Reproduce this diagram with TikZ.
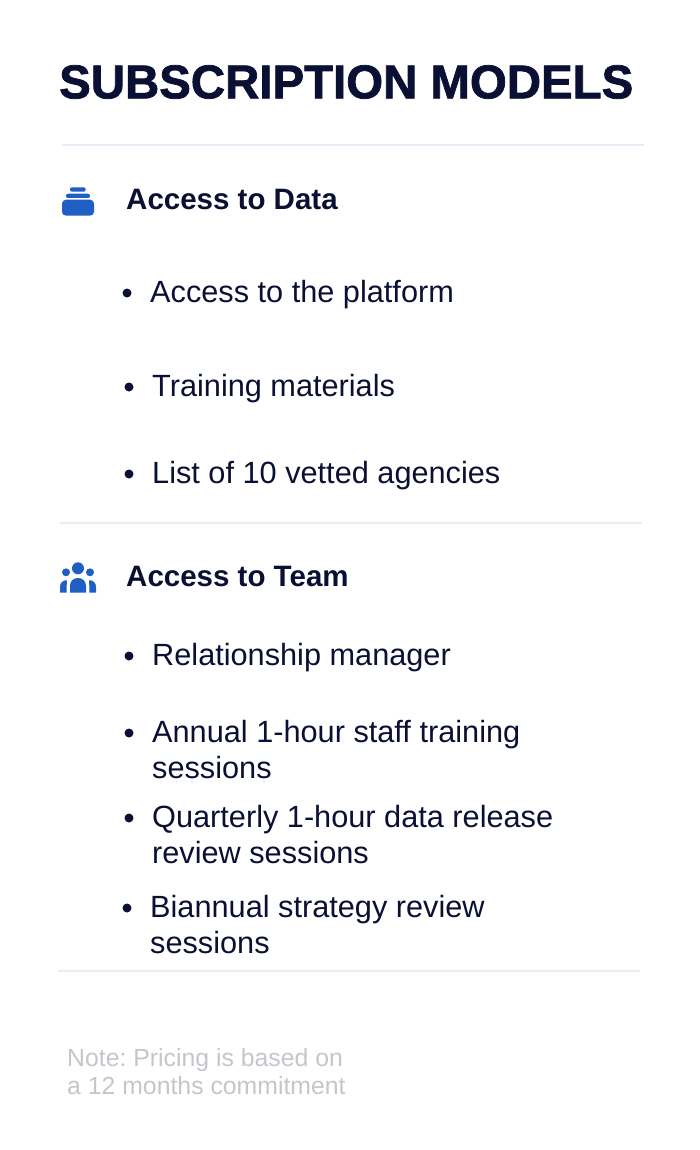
\documentclass[tikz,border=0pt]{standalone}
\usepackage{fontspec}
\setmainfont{Liberation Sans}
\newfontfamily\titlefont[FakeBold=1.6]{Liberation Sans Bold}
\usetikzlibrary{positioning}
\definecolor{inkblue}{HTML}{0A1033}
\definecolor{iconblue}{HTML}{1F5FC4}
\definecolor{rulegrey}{HTML}{E8ECF6}
\definecolor{notegrey}{HTML}{C4C6CC}

\begin{document}
\begin{tikzpicture}
    [
    x=1pt,y=-1pt,
    title/.style={anchor=west,inner sep=0pt,text=inkblue,font=\fontsize{47.4}{48}\selectfont\titlefont},
    heading/.style={anchor=west,inner sep=0pt,text=inkblue,font=\fontsize{29.5}{29.5}\selectfont\bfseries},
    entry/.style={anchor=west,inner sep=0pt,text=inkblue,align=left,font=\fontsize{30.7}{36}\selectfont},
    note/.style={anchor=west,inner sep=0pt,text=notegrey,align=left,font=\fontsize{24.8}{28}\selectfont\frenchspacing},
    dot/.style={circle,fill=inkblue,inner sep=0pt,minimum size=9pt},
    divider/.style={rulegrey,line width=1.5pt},
    icon/.style={iconblue},
    ]
    \useasboundingbox (0,0) rectangle (700,1150);

    \node (title) at (59,82) [title] {SUBSCRIPTION MODELS};

    \coordinate (r1a) at (62,145);
    \coordinate (r1b) at (644,145);
    \draw [divider] (r1a) to (r1b);

    \node (head1) at (126,199) [heading] {Access to Data};
    \fill [icon, rounded corners=2pt] (70,187.3) rectangle (85.7,191.7);
    \fill [icon, rounded corners=2pt] (66,193.7) rectangle (90,198);
    \fill [icon, rounded corners=4pt] (62,199.7) rectangle (94,215.7);

    \node (d1) at (127,293) [dot] {};
    \node (t1) at (150,295) [entry] {Access to the platform};
    \node (d2) at (129,387) [dot] {};
    \node (t2) at (152,389) [entry] {Training materials};
    \node (d3) at (129,474) [dot] {};
    \node (t3) at (152,476) [entry] {List of 10 vetted agencies};

    \coordinate (r2a) at (60,523);
    \coordinate (r2b) at (642,523);
    \draw [divider] (r2a) to (r2b);

    \node (head2) at (126,576) [heading] {Access to Team};
    \fill [icon] (78,568.3) circle [radius=6];
    \fill [icon] (66,572.3) circle [radius=4];
    \fill [icon] (90,572.3) circle [radius=4];
    \fill [icon] (70,592.7) -- (70,586) .. controls (70,581) and (73.5,578) .. (78,578)
        .. controls (82.5,578) and (86,581) .. (86,586) -- (86,592.7) -- cycle;
    \fill [icon] (60,592.7) -- (60,587) .. controls (60,583) and (62.5,580.5) .. (66.7,580)
        .. controls (67,582) and (66.7,584) .. (66.7,586) -- (66.7,592.7) -- cycle;
    \fill [icon] (96,592.7) -- (96,587) .. controls (96,583) and (93.5,580.5) .. (89.3,580)
        .. controls (89,582) and (89.3,584) .. (89.3,586) -- (89.3,592.7) -- cycle;

    \node (d4) at (129,656) [dot] {};
    \node (t4) at (152,658) [entry] {Relationship manager};
    \node (d5) at (129,733) [dot] {};
    \node (t5) at (152,750) [entry] {Annual 1-hour staff training\\sessions};
    \node (d6) at (129,818) [dot] {};
    \node (t6) at (152,835) [entry] {Quarterly 1-hour data release\\review sessions};
    \node (d7) at (127,908) [dot] {};
    \node (t7) at (150,925) [entry] {Biannual strategy review\\sessions};

    \coordinate (r3a) at (58,971);
    \coordinate (r3b) at (640,971);
    \draw [divider] (r3a) to (r3b);

    \node (n1) at (67,1072) [note] {Note: Pricing is based on\\a 12 months commitment};
\end{tikzpicture}
\end{document}
